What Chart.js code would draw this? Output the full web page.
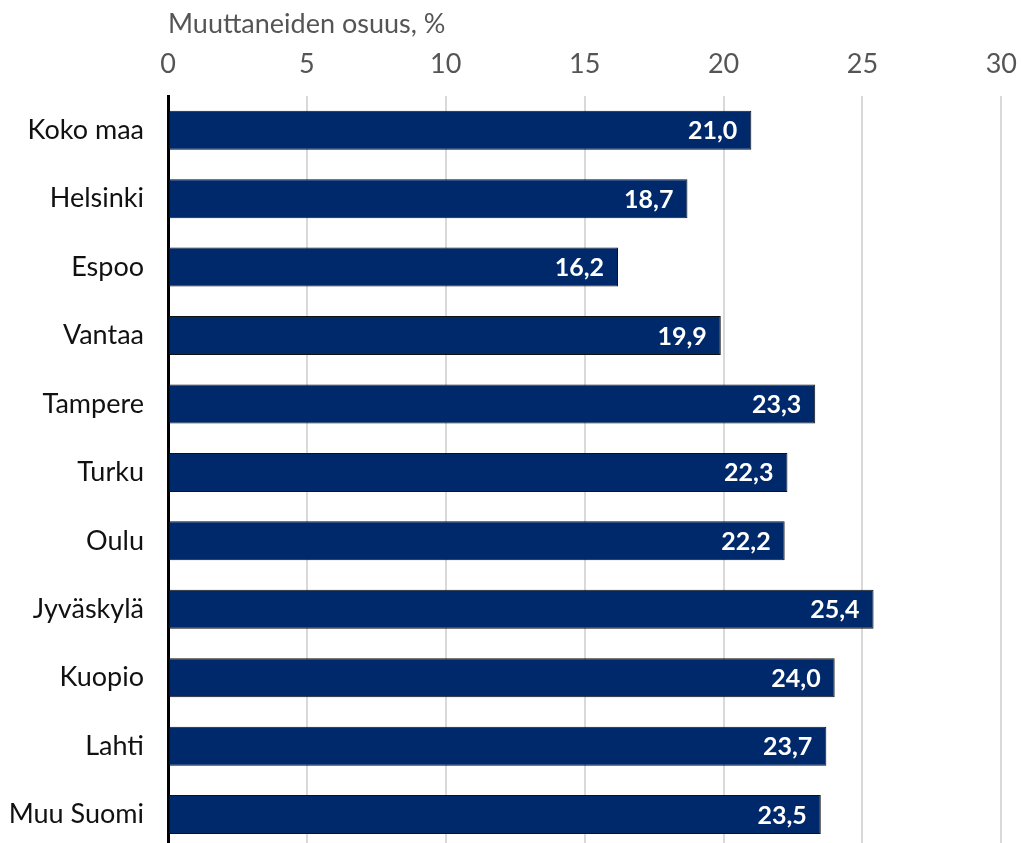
<!DOCTYPE html>
<html>
<head>
<meta charset="utf-8">
<script src="https://cdn.jsdelivr.net/npm/chart.js@4"></script>
<style>
  html, body { margin: 0; padding: 0; background: #fff; overflow: hidden; }
  #wrap { width: 1021px; height: 843px; overflow: hidden; }
</style>
</head>
<body>
<div id="wrap"><canvas id="chart" width="1033" height="889"></canvas></div>
<script>
const categories = ['Koko maa', 'Helsinki', 'Espoo', 'Vantaa', 'Tampere', 'Turku', 'Oulu', 'Jyväskylä', 'Kuopio', 'Lahti', 'Muu Suomi'];
const shares = [21.0, 18.7, 16.2, 19.9, 23.3, 22.3, 22.2, 25.4, 24.0, 23.7, 23.5];
const axisTitle = 'Muuttaneiden osuus, %';

const fontFamily = 'Lato, "Noto Sans", sans-serif';
const barColor = '#00296b';

// arvot palkkien sisälle oikeaan reunaan
const valueLabels = {
    id: 'valueLabels',
    afterDatasetsDraw(chart) {
        const ctx = chart.ctx;
        const meta = chart.getDatasetMeta(0);
        ctx.save();
        ctx.fillStyle = '#ffffff';
        ctx.font = 'bold 25px ' + fontFamily;
        ctx.textAlign = 'right';
        ctx.textBaseline = 'middle';
        meta.data.forEach((bar, i) => {
            const txt = shares[i].toFixed(1).replace('.', ',');
            ctx.fillText(txt, bar.x - 14, bar.y + 1);
        });
        ctx.restore();
    }
};

new Chart(document.getElementById('chart'), {
    type: 'bar',
    data: {
        labels: categories,
        datasets: [{
            data: shares,
            backgroundColor: barColor,
            borderColor: '#111111',
            borderWidth: 1,
            borderSkipped: false,
            categoryPercentage: 1,
            barPercentage: 0.57
        }]
    },
    options: {
        indexAxis: 'y',
        responsive: false,
        animation: false,
        layout: { padding: { top: 0, left: 0, right: 0, bottom: 0 } },
        plugins: {
            legend: { display: false },
            tooltip: { enabled: false }
        },
        scales: {
            x: {
                position: 'top',
                min: 0,
                max: 30,
                afterFit: (scale) => { scale.height = 96; },
                ticks: {
                    stepSize: 5,
                    color: '#555555',
                    font: { family: fontFamily, size: 27 },
                    padding: 16
                },
                grid: { color: '#d9d9d9', lineWidth: 2, drawTicks: false },
                border: { display: false },
                title: {
                    display: true,
                    text: axisTitle,
                    align: 'start',
                    color: '#555555',
                    font: { family: fontFamily, size: 27 },
                    padding: { top: 8, bottom: 0 }
                }
            },
            y: {
                afterFit: (scale) => { scale.width = 168; },
                ticks: {
                    color: '#111111',
                    font: { family: fontFamily, size: 27 },
                    padding: 24
                },
                grid: { display: false, drawTicks: false },
                border: { display: true, color: '#000000', width: 3 }
            }
        }
    },
    plugins: [valueLabels]
});
</script>
</body>
</html>
